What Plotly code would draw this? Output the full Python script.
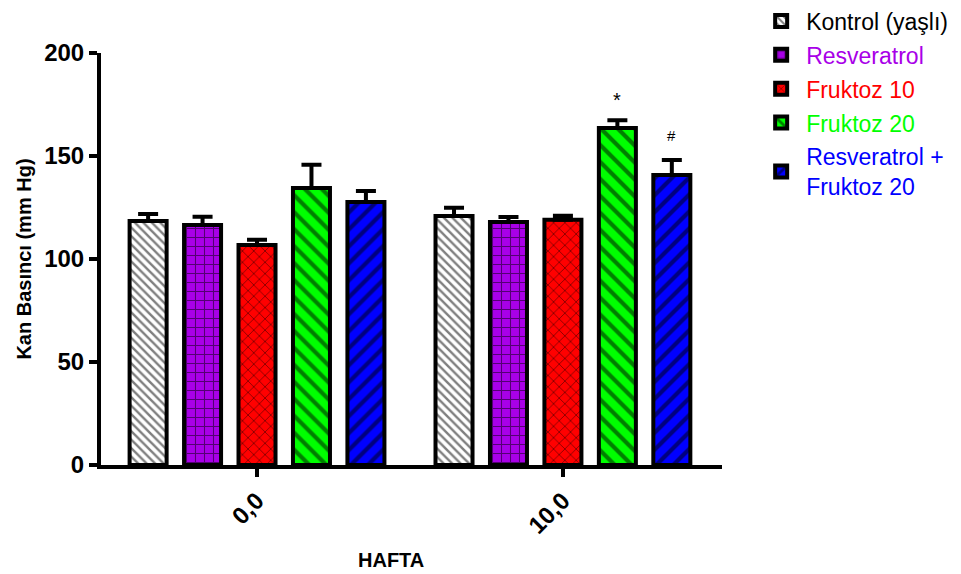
import plotly.graph_objects as go

# Blood pressure by week and group
weeks = ["0,0", "10,0"]
groups = ["Kontrol (yaşlı)", "Resveratrol", "Fruktoz 10", "Fruktoz 20",
          "Resveratrol +<br>Fruktoz 20"]
mean_w0 = [118.4, 116.5, 106.8, 134.5, 127.7]
mean_w10 = [120.9, 118.0, 119.0, 163.6, 140.8]
sem_w0 = [3.5, 4.0, 2.5, 11.2, 5.3]
sem_w10 = [4.0, 2.4, 2.0, 3.8, 7.2]
marks_w10 = ["", "", "", "*", "#"]

colors = ["#FFFFFF", "#A800E8", "#FF0000", "#00FF00", "#0000FF"]
text_colors = ["#000000", "#A800E8", "#FF0000", "#00FF00", "#0000FF"]
patterns = [
    dict(shape="\\", fgcolor="black", bgcolor="white", size=6, solidity=0.4),
    dict(shape="+", fgcolor="black", bgcolor="#A800E8", size=9, solidity=0.22),
    dict(shape="x", fgcolor="black", bgcolor="#FF0000", size=8, solidity=0.2),
    dict(shape="\\", fgcolor="black", bgcolor="#00FF00", size=12, solidity=0.35),
    dict(shape="/", fgcolor="black", bgcolor="#0000FF", size=12, solidity=0.35),
]

FONT = "Arial, Liberation Sans, sans-serif"
step = 0.178
bar_w = 0.121

fig = go.Figure()
for i, name in enumerate(groups):
    off = (i - 2) * step
    fig.add_trace(go.Bar(
        x=[0 + off, 1 + off],
        y=[mean_w0[i], mean_w10[i]],
        width=bar_w,
        name=f'<span style="color:{text_colors[i]}">{name}</span>',
        legendgroup=f"g{i}",
        marker=dict(color=colors[i], pattern=patterns[i],
                    line=dict(color="black", width=4)),
        error_y=dict(type="data", array=[sem_w0[i], sem_w10[i]],
                     arrayminus=[0, 0], symmetric=False,
                     color="black", thickness=4, width=10),
    ))
    if marks_w10[i]:
        star = marks_w10[i] == "*"
        fig.add_annotation(
            x=1 + off, y=mean_w10[i] + sem_w10[i],
            text=marks_w10[i], showarrow=False,
            yanchor="bottom", yshift=7 if star else 14,
            font=dict(family=FONT, size=20 if star else 15, color="black"),
        )

fig.add_annotation(
    x=0.467, y=-0.231, xref="paper", yref="paper",
    text="<b>HAFTA</b>", showarrow=False, yanchor="middle",
    font=dict(family=FONT, size=20, color="black"),
)

fig.update_layout(
    width=961, height=574,
    margin=dict(l=101, r=239, t=53, b=109, autoexpand=False),
    plot_bgcolor="white", paper_bgcolor="white",
    barmode="overlay",
    font=dict(family=FONT, color="black"),
    showlegend=True,
    legend=dict(
        x=1.055, y=1.13, xanchor="left", yanchor="top",
        font=dict(family=FONT, size=23),
        traceorder="grouped", tracegroupgap=1,
        itemwidth=40,
        bgcolor="rgba(0,0,0,0)",
    ),
    xaxis=dict(
        range=[-0.51, 1.52],
        tickvals=[0, 1], ticktext=[f"<b>{w}</b>" for w in weeks],
        tickangle=-45,
        tickfont=dict(family=FONT, size=24, color="black"),
        ticks="outside", ticklen=8, tickwidth=4, tickcolor="black",
        showline=True, linewidth=4, linecolor="black",
        showgrid=False, zeroline=False,
    ),
    yaxis=dict(
        range=[0, 200],
        tickvals=[0, 50, 100, 150, 200],
        ticktext=["<b>0</b>", "<b>50</b>", "<b>100</b>", "<b>150</b>", "<b>200</b>"],
        tickfont=dict(family=FONT, size=24, color="black"),
        ticks="outside", ticklen=8, tickwidth=4, tickcolor="black",
        showline=True, linewidth=4, linecolor="black",
        showgrid=False, zeroline=False,
        title=dict(text="<b>Kan Basıncı (mm Hg)</b>",
                   font=dict(family=FONT, size=20, color="black"),
                   standoff=8),
    ),
)

fig.write_html("out.html")
